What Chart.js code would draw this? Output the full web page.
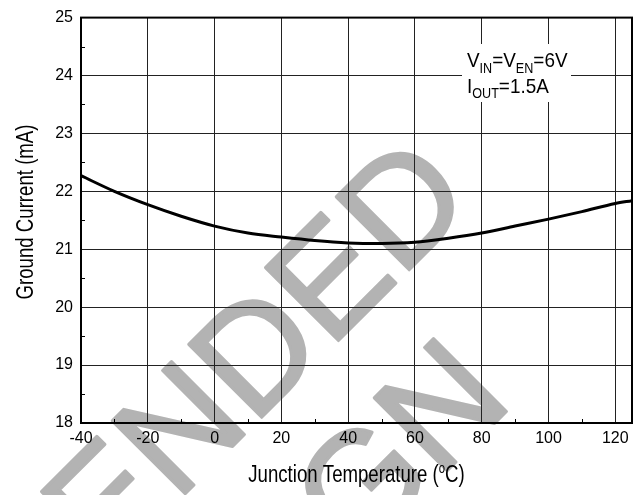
<!DOCTYPE html>
<html>
<head>
<meta charset="utf-8">
<title>Ground Current vs Junction Temperature</title>
<script src="https://cdn.jsdelivr.net/npm/chart.js@4.4.0/dist/chart.umd.min.js"></script>
<style>
  html, body { margin: 0; padding: 0; background: #fff; }
  #wrap { width: 644px; height: 495px; }
</style>
</head>
<body>
<div id="wrap"><canvas id="gndChart" width="644" height="495"></canvas></div>
<script>
// junction temperature (C) and ground current (mA)
const tempC = [-40, -30, -20, -10, 0, 10, 20, 30, 40, 50, 60, 70, 80, 90, 100, 110, 120, 125];
const groundMA = [22.27, 22.0, 21.77, 21.57, 21.4, 21.28, 21.21, 21.15, 21.11, 21.1, 21.12, 21.19, 21.28, 21.4, 21.52, 21.65, 21.79, 21.84];

const xTicks = [-40, -20, 0, 20, 40, 60, 80, 100, 120];
const yTicks = [18, 19, 20, 21, 22, 23, 24, 25];
const xMinor = [-30, -10, 10, 30, 50, 70, 90, 110];
const yMinor = [18.5, 19.5, 20.5, 21.5, 22.5, 23.5, 24.5];

const watermarkLines = ['NOT RECOMMENDED', 'FOR NEW DESIGN'];

const sans = '"Liberation Sans", Arial, sans-serif';
const SQUEEZE = 0.81;   // titles are set in a condensed face

// big grey stamp behind the plot
const watermark = {
  id: 'watermark',
  beforeDraw(chart) {
    const ctx = chart.ctx;
    ctx.save();
    ctx.fillStyle = '#b3b3b3';
    ctx.strokeStyle = '#b3b3b3';
    ctx.lineWidth = 3;
    ctx.lineJoin = 'round';
    ctx.font = '150px ' + sans;
    ctx.textAlign = 'right';
    ctx.textBaseline = 'alphabetic';
    const anchors = [[477, 202], [515, 403]];
    watermarkLines.forEach((txt, i) => {
      ctx.save();
      ctx.translate(anchors[i][0], anchors[i][1]);
      ctx.rotate(-Math.PI / 4);
      ctx.fillText(txt, 0, 0);
      ctx.strokeText(txt, 0, 0);
      ctx.restore();
    });
    ctx.restore();
  }
};

// draw a run of [text, isSub/isSup] pieces squeezed horizontally
function drawRuns(ctx, parts, x, y, size, smallSize, shift, squeeze) {
  ctx.save();
  ctx.translate(x, y);
  ctx.scale(squeeze, 1);
  let cx = 0;
  parts.forEach(([t, small]) => {
    ctx.font = (small ? smallSize : size) + 'px ' + sans;
    ctx.fillText(t, cx, small ? shift : 0);
    cx += ctx.measureText(t).width;
  });
  ctx.restore();
}

function runsWidth(ctx, parts, size, smallSize, squeeze) {
  let w = 0;
  parts.forEach(([t, small]) => {
    ctx.font = (small ? smallSize : size) + 'px ' + sans;
    w += ctx.measureText(t).width;
  });
  return w * squeeze;
}

// frame, minor ticks, axis titles and the test-condition note
const decorations = {
  id: 'decorations',
  afterDraw(chart) {
    const ctx = chart.ctx;
    const a = chart.chartArea;
    const xs = chart.scales.x, ys = chart.scales.y;
    ctx.save();

    ctx.strokeStyle = '#000';
    ctx.lineWidth = 1;
    ctx.beginPath();
    xMinor.forEach(v => {
      const px = Math.round(xs.getPixelForValue(v)) + 0.5;
      ctx.moveTo(px, a.bottom);
      ctx.lineTo(px, a.bottom - 4);
    });
    yMinor.forEach(v => {
      const py = Math.round(ys.getPixelForValue(v)) + 0.5;
      ctx.moveTo(a.left, py);
      ctx.lineTo(a.left + 4, py);
    });
    ctx.stroke();

    ctx.lineWidth = 2;
    ctx.strokeRect(a.left, a.top, a.right - a.left, a.bottom - a.top);

    // note box
    ctx.fillStyle = '#fff';
    ctx.fillRect(462, 44, 109, 58);
    ctx.fillStyle = '#000';
    ctx.textAlign = 'left';
    ctx.textBaseline = 'alphabetic';
    drawRuns(ctx, [['V', 0], ['IN', 1], ['=V', 0], ['EN', 1], ['=6V', 0]], 467, 67, 21, 14, 6, 0.9);
    drawRuns(ctx, [['I', 0], ['OUT', 1], ['=1.5A', 0]], 467, 93, 21, 14, 5, 0.9);

    // x title with raised degree mark
    const xt = [['Junction Temperature (', 0], ['o', 1], ['C)', 0]];
    const w = runsWidth(ctx, xt, 23, 14, SQUEEZE);
    drawRuns(ctx, xt, (a.left + a.right) / 2 - w / 2, 482, 23, 14, -9, SQUEEZE);

    // y title
    ctx.save();
    ctx.translate(33, 212);
    ctx.rotate(-Math.PI / 2);
    ctx.scale(SQUEEZE, 1);
    ctx.textAlign = 'center';
    ctx.font = '23px ' + sans;
    ctx.fillText('Ground Current (mA)', 0, 0);
    ctx.restore();

    ctx.restore();
  }
};

new Chart(document.getElementById('gndChart'), {
  type: 'line',
  data: {
    datasets: [{
      data: tempC.map((t, i) => ({ x: t, y: groundMA[i] })),
      borderColor: '#000',
      borderWidth: 3,
      pointRadius: 0,
      fill: false,
      cubicInterpolationMode: 'monotone'
    }]
  },
  options: {
    responsive: false,
    animation: false,
    devicePixelRatio: 1,
    layout: { padding: { top: 13, right: 12, left: 0, bottom: 0 } },
    plugins: { legend: { display: false }, tooltip: { enabled: false } },
    scales: {
      x: {
        type: 'linear',
        min: -40,
        max: 125,
        afterBuildTicks: s => { s.ticks = xTicks.map(v => ({ value: v })); },
        afterFit: s => { s.height = 72; },
        grid: { color: '#222', lineWidth: 1, drawTicks: false },
        border: { display: true, color: '#000', width: 2 },
        ticks: { font: { family: sans, size: 16 }, color: '#000', padding: 6, maxRotation: 0 }
      },
      y: {
        min: 18,
        max: 25,
        afterBuildTicks: s => { s.ticks = yTicks.map(v => ({ value: v })); },
        afterFit: s => { s.width = 81; },
        grid: { color: '#222', lineWidth: 1, drawTicks: false },
        border: { display: true, color: '#000', width: 2 },
        ticks: { font: { family: sans, size: 16 }, color: '#000', padding: 8 }
      }
    }
  },
  plugins: [watermark, decorations]
});
</script>
</body>
</html>
